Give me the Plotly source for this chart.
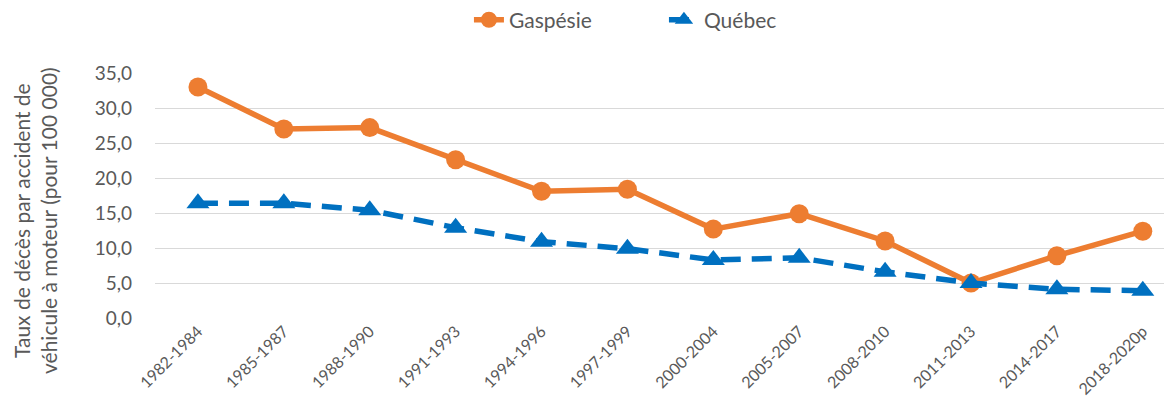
import plotly.graph_objects as go

categories = ["1982-1984", "1985-1987", "1988-1990", "1991-1993", "1994-1996", "1997-1999",
              "2000-2004", "2005-2007", "2008-2010", "2011-2013", "2014-2017", "2018-2020p"]
gaspesie = [33.0, 27.0, 27.2, 22.6, 18.1, 18.4, 12.7, 14.9, 11.0, 5.0, 8.9, 12.4]
quebec = [16.4, 16.4, 15.4, 12.9, 10.9, 9.9, 8.3, 8.6, 6.6, 5.0, 4.1, 3.9]
y_ticks = [0, 5, 10, 15, 20, 25, 30, 35]
y_tick_labels = ["0,0", "5,0", "10,0", "15,0", "20,0", "25,0", "30,0", "35,0"]
y_title = "Taux de décès par accident de<br>véhicule à moteur (pour 100 000)"

FONT = "Lato, 'Liberation Sans', sans-serif"
GREY = "#595959"

fig = go.Figure()
fig.add_trace(go.Scatter(
    x=list(range(len(categories))), y=gaspesie, name="Gaspésie", mode="lines+markers",
    line=dict(color="#ED7D31", width=5.5),
    marker=dict(symbol="circle", size=19, color="#ED7D31"),
))
fig.add_trace(go.Scatter(
    x=list(range(len(categories))), y=quebec, name="Québec", mode="lines+markers",
    line=dict(color="#0070C0", width=5.5, dash="20px,11px"),
    marker=dict(symbol="triangle-up", size=20, color="#0070C0"),
))

fig.add_annotation(
    text=y_title, xref="paper", yref="paper", x=-0.118, y=0.40,
    xanchor="center", yanchor="middle", textangle=-90, showarrow=False,
    font=dict(size=21, color=GREY, family=FONT), align="center",
)

fig.update_layout(
    width=1164, height=411,
    margin=dict(l=147, r=0, t=65, b=101, autoexpand=False),
    paper_bgcolor="white", plot_bgcolor="white",
    font=dict(family=FONT, color=GREY, size=17),
    showlegend=True,
    legend=dict(orientation="h", x=0.396, xref="container", xanchor="left", y=1.216, yref="paper",
                yanchor="middle", font=dict(size=21, color=GREY), entrywidth=150, entrywidthmode="pixels",
                traceorder="normal"),
    xaxis=dict(
        tickmode="array", tickvals=list(range(len(categories))), ticktext=categories,
        range=[-0.5, 11.34], tickangle=-45, tickfont=dict(size=16, color=GREY),
        showgrid=False, showline=False, zeroline=False, ticks="", automargin=False,
    ),
    yaxis=dict(
        range=[0, 35], tickmode="array", tickvals=y_ticks, ticktext=y_tick_labels,
        showgrid=True, gridcolor="#D9D9D9", gridwidth=1.3, zeroline=False, showline=False,
        tickfont=dict(size=19, color=GREY), ticks="", ticklabelstandoff=22, automargin=False,
    ),
)

fig.write_html("out.html")
